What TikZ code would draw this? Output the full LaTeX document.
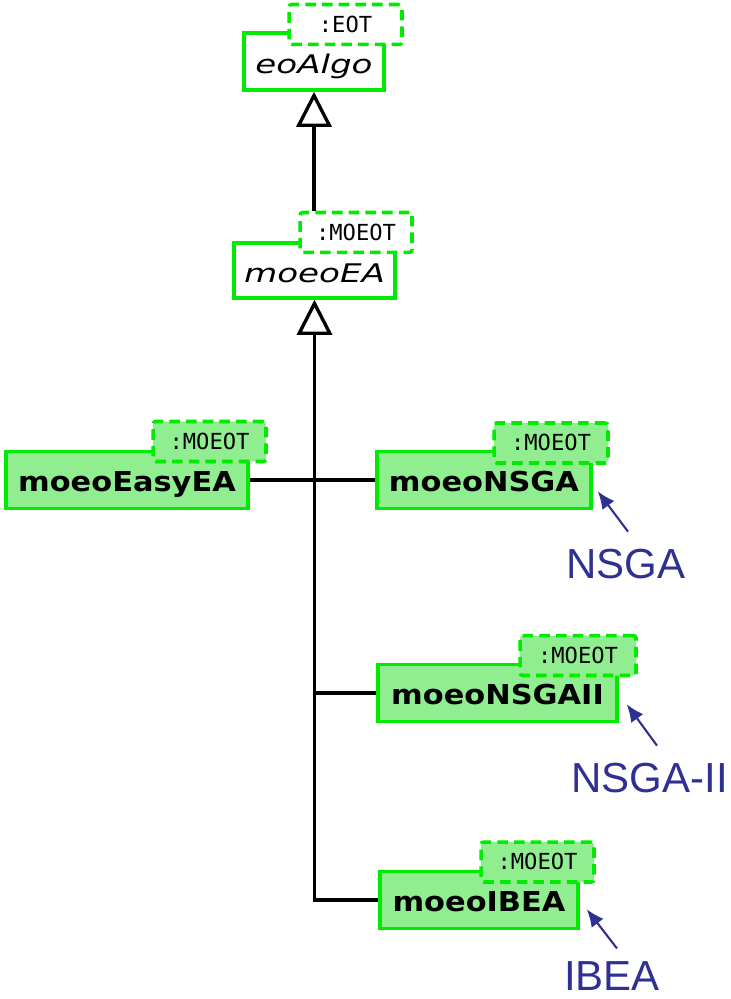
\documentclass[tikz,border=0pt]{standalone}
\usepackage{fontspec}
\usepackage{tikz}
\usetikzlibrary{arrows.meta,positioning}
\newfontfamily\classfont[FakeStretch=1.11]{DejaVu Sans}
\newfontfamily\absfont[FakeStretch=1.33]{DejaVu Sans}
\newfontfamily\tplfont{DejaVu Sans Mono}
\newfontfamily\notefont{Liberation Sans}
\definecolor{umlgreen}{RGB}{0,235,0}
\definecolor{umllight}{RGB}{144,238,144}
\definecolor{noteblue}{RGB}{46,49,146}
\tikzstyle{gen} = [line width=1.9pt, -{Triangle[open,length=20pt,width=20pt]}]
\tikzstyle{link} = [line width=1.9pt]
\tikzstyle{note} = [line width=1.2pt, color=noteblue, -{Latex[length=10pt,width=8.5pt]}]
\tikzstyle{classbox} = [rectangle, draw=umlgreen, line width=2pt, inner sep=0pt, minimum height=1.14cm, text height=13.1pt, text depth=0pt]
\tikzstyle{concrete} = [classbox, fill=umllight, font=\classfont\bfseries\fontsize{15.6}{18}\selectfont]
\tikzstyle{abstract} = [classbox, fill=white, font=\absfont\itshape\fontsize{14.6}{17}\selectfont]
\tikzstyle{tparam} = [rectangle, draw=umlgreen, dash pattern=on 6pt off 3.5pt, line width=2pt, rounded corners=1.5pt, inner sep=0pt, minimum width=2.28cm, minimum height=0.8cm, text height=9pt, text depth=0pt, font=\tplfont\fontsize{12.6}{14}\selectfont]
\tikzstyle{notelabel} = [inner sep=0pt, text=noteblue, font=\notefont\fontsize{23.9}{28}\selectfont]

\begin{document}
\begin{tikzpicture}[x=0.02cm,y=-0.02cm]
\useasboundingbox (0,0) rectangle (730,999);

% Abstract classes
\node[abstract, minimum width=2.80cm] (eoalgo) at (314,61.5) {eoAlgo};
\node[tparam, fill=white, minimum width=2.26cm] (eoalgoT) at (345.5,24.5) {:EOT};
\node[abstract, minimum width=3.22cm, minimum height=1.10cm] (moeoea) at (314.5,270.5) {moeoEA};
\node[tparam, fill=white, minimum width=2.24cm] (moeoeaT) at (356,232.5) {:MOEOT};

% Concrete algorithms
\node[concrete, minimum width=4.84cm] (easyea) at (127,480) {moeoEasyEA};
\node[tparam, fill=umllight, minimum width=2.26cm] (easyeaT) at (209.5,441.5) {:MOEOT};
\node[concrete, minimum width=4.28cm] (nsga) at (484,480) {moeoNSGA};
\node[tparam, fill=umllight] (nsgaT) at (551,443) {:MOEOT};
\node[concrete, minimum width=4.78cm] (nsgaii) at (497.5,693) {moeoNSGAII};
\node[tparam, fill=umllight, minimum width=2.32cm] (nsgaiiT) at (578,655.5) {:MOEOT};
\node[concrete, minimum width=3.96cm] (ibea) at (479,900) {moeoIBEA};
\node[tparam, fill=umllight, minimum width=2.26cm] (ibeaT) at (537.5,862) {:MOEOT};

% Inheritance
\draw[gen] (moeoeaT.north -| eoalgo.south) -- (eoalgo.south);
\draw[gen] (ibea.west) -| (moeoea.south);
\draw[link] (nsgaii.west) -- (nsgaii.west -| moeoea.south);
\draw[link] (easyea.east) -- (nsga.west);

% Annotations
\node[notelabel, anchor=base] (nsgaLbl) at (625.5,578) {NSGA};
\node[notelabel, anchor=base] (nsgaiiLbl) at (649.5,792) {NSGA-II};
\node[notelabel, anchor=base] (ibeaLbl) at (612,990) {IBEA};
\draw[note] ([xshift=0.05cm,yshift=9.5pt]nsgaLbl.north) -- ([shift={(5,-19)}]nsga.south east);
\draw[note] ([xshift=0.15cm,yshift=9.5pt]nsgaiiLbl.north) -- ([shift={(8,-19)}]nsgaii.south east);
\draw[note] ([xshift=0.10cm,yshift=7pt]ibeaLbl.north) -- ([shift={(7,-21)}]ibea.south east);
\end{tikzpicture}
\end{document}
